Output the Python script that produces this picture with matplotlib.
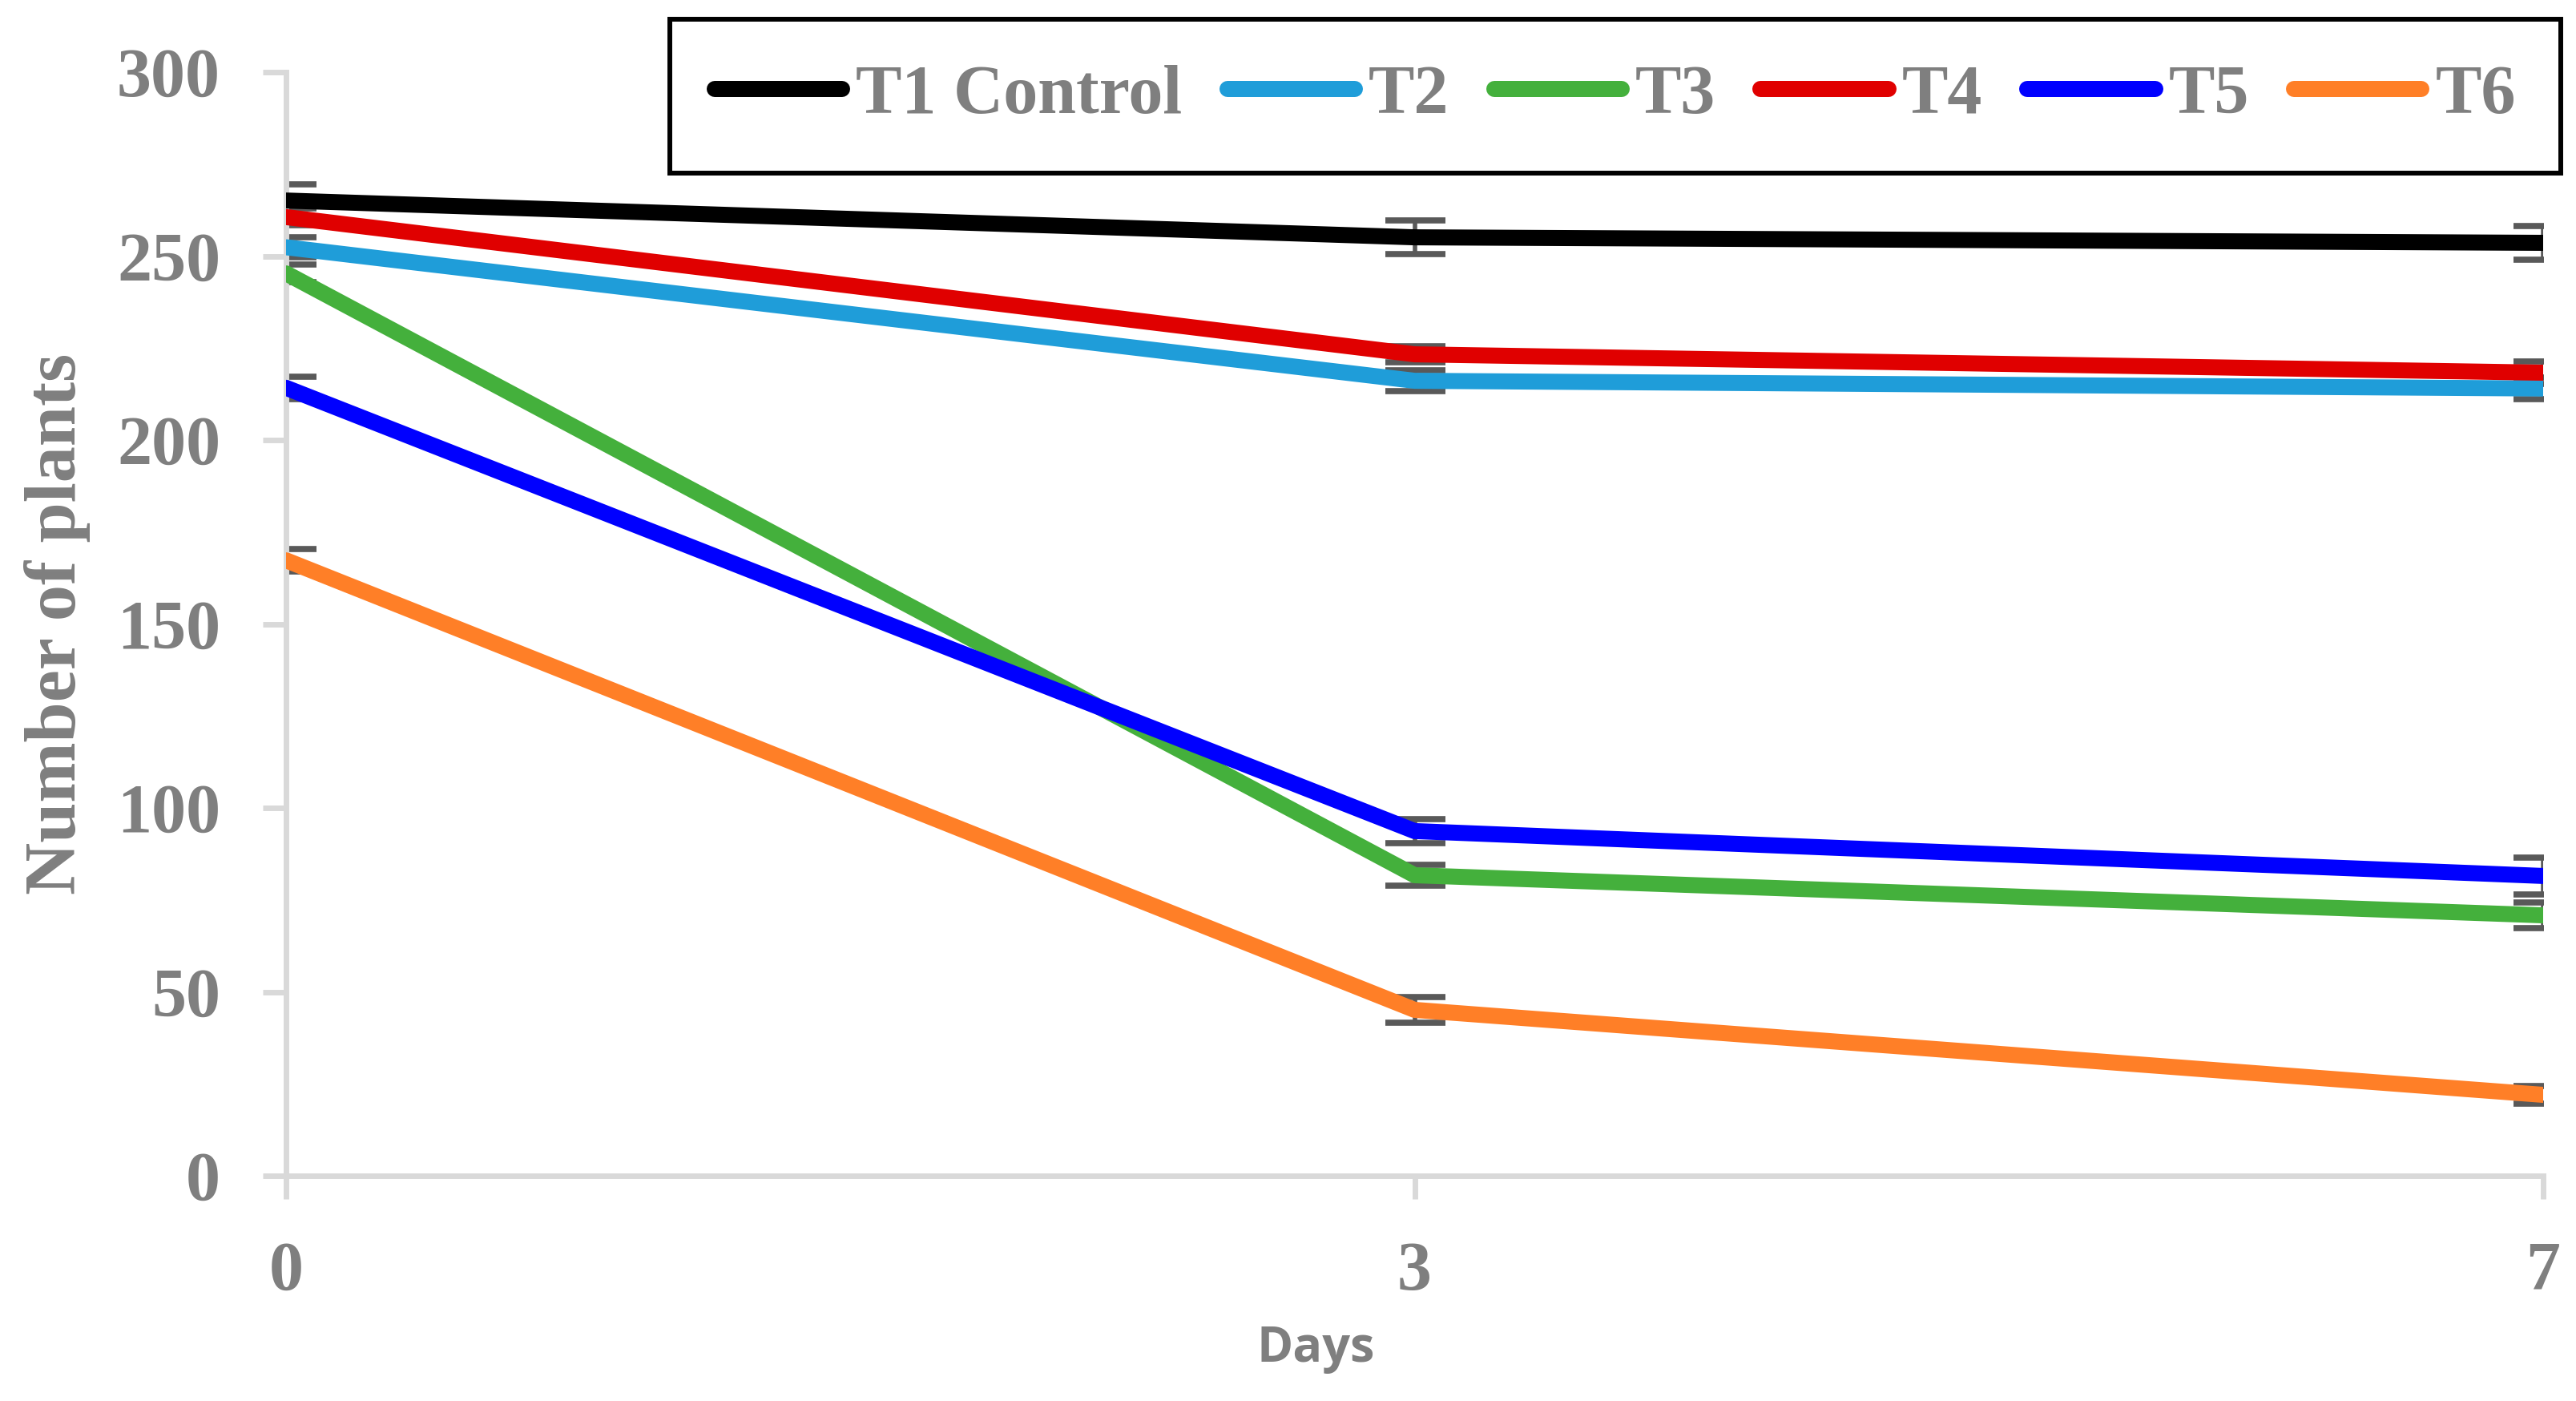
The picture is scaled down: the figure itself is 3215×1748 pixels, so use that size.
import matplotlib
matplotlib.use("Agg")
import matplotlib.pyplot as plt

days = ["0", "3", "7"]
series_names = ["T1 Control", "T2", "T3", "T4", "T5", "T6"]
t1 = [265.1, 255.1, 253.6]
t2 = [252.4, 216.1, 214.0]
t3 = [245.3, 81.7, 70.8]
t4 = [260.6, 223.3, 218.3]
t5 = [214.2, 93.7, 81.5]
t6 = [167.3, 45.1, 22.0]
t1_err = [4.4, 4.5, 4.5]
t2_err = [2.7, 2.8, 2.9]
t3_err = [2.4, 2.8, 3.4]
t4_err = [2.3, 2.2, 3.0]
t5_err = [3.1, 3.3, 5.0]
t6_err = [3.0, 3.4, 2.5]
yticks = [0, 50, 100, 150, 200, 250, 300]

colors = ["#000000", "#1F9DD9", "#44B03C", "#E00000", "#0000FF", "#FF7F27"]
values = [t1, t2, t3, t4, t5, t6]
errors = [t1_err, t2_err, t3_err, t4_err, t5_err, t6_err]

fig = plt.figure(figsize=(32.15, 17.48), dpi=100)
ax = fig.add_axes([357/3215, 1-1467/1748, (3174-357)/3215, (1467-90)/1748])

x = list(range(len(days)))
gray = "#7F7F7F"
serif = "Liberation Serif"

for vals, errs in zip(values, errors):
    ax.errorbar(x, vals, yerr=errs, fmt="none", ecolor="#595959",
                elinewidth=4.0, capsize=27, capthick=5.5, zorder=2)

handles = []
for name, vals, c in zip(series_names, values, colors):
    h, = ax.plot(x, vals, color=c, lw=14.4, solid_capstyle="round",
                 solid_joinstyle="round", label=name, zorder=3)
    handles.append(h)

ax.set_xlim(0, len(days)-1)
ax.set_ylim(0, 300)
ax.set_xticks(x)
ax.set_xticklabels(days)
ax.set_yticks(yticks)
ax.set_yticklabels([str(v) for v in yticks])

for s in ["top", "right"]:
    ax.spines[s].set_visible(False)
for s in ["left", "bottom"]:
    ax.spines[s].set_color("#D9D9D9")
    ax.spines[s].set_linewidth(5)
ax.tick_params(axis="both", colors="#D9D9D9", width=5, length=21,
               labelcolor=gray, labelsize=62, pad=38)
for lab in ax.get_xticklabels() + ax.get_yticklabels():
    lab.set_fontfamily(serif)
    lab.set_fontweight("bold")

fig.text(72/3215, 1-778/1748, "Number of plants", rotation=90, ha="center",
         va="center", color=gray, fontsize=65, fontfamily=serif, fontweight="bold")
fig.text(1642/3215, 1-1683/1748, "Days", ha="center", va="center",
         color=gray, fontsize=44, fontfamily="Open Sans", fontweight="bold")

leg = fig.legend(handles=handles, loc="center", ncol=6,
                 bbox_to_anchor=(2016/3215, 1-120/1748),
                 bbox_transform=fig.transFigure,
                 prop={"family": serif, "weight": "bold", "size": 62},
                 handlelength=1.85, handletextpad=0.2, columnspacing=0.65,
                 borderpad=0.65, fancybox=False, framealpha=1,
                 edgecolor="black", borderaxespad=0)
leg.get_frame().set_linewidth(4.3)
for t in leg.get_texts():
    t.set_color(gray)

fig.savefig("out.png", dpi=100, facecolor="white")
